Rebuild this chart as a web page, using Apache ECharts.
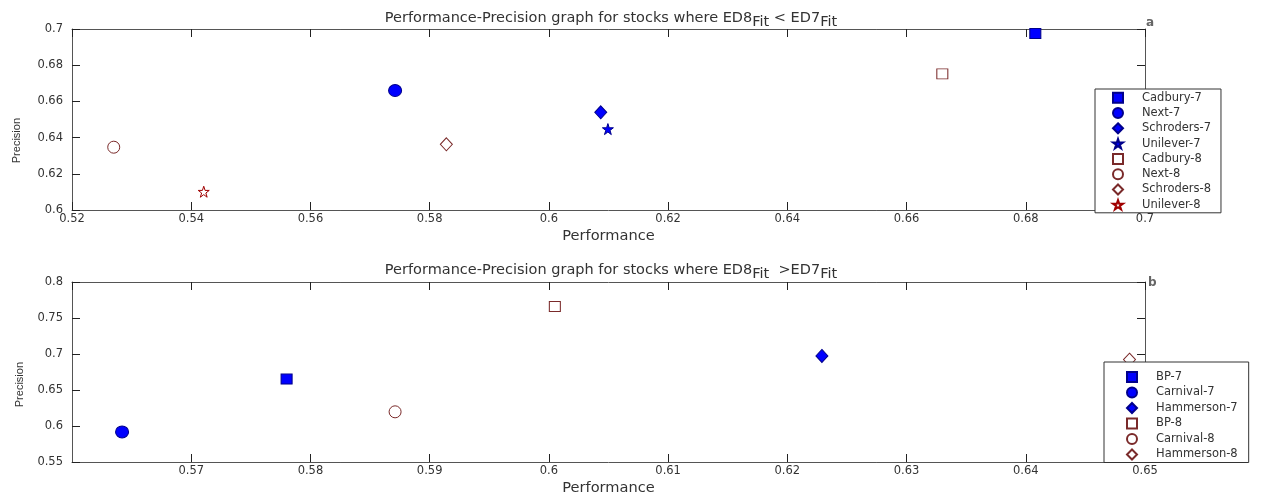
<!DOCTYPE html>
<html>
<head>
<meta charset="utf-8">
<script src="https://cdn.jsdelivr.net/npm/echarts@6/dist/echarts.min.js"></script>
<style>
html,body{margin:0;padding:0;background:#fff;}
#c{width:1275px;height:499px;}
</style>
</head>
<body>
<div id="c"></div>
<script>
// ---- data ----
const namesA = ['Cadbury-7','Next-7','Schroders-7','Unilever-7','Cadbury-8','Next-8','Schroders-8','Unilever-8'];
const perfA  = [0.6816, 0.5742, 0.6087, 0.6099, 0.6660, 0.5270, 0.5828, 0.5421];
const precA  = [0.6975, 0.6660, 0.6540, 0.6447, 0.6752, 0.6347, 0.6363, 0.6101];
const shapesA = ['sq','ci','di','st','sq','ci','di','st'];
const filledA = [true,true,true,true,false,false,false,false];

const namesB = ['BP-7','Carnival-7','Hammerson-7','BP-8','Carnival-8','Hammerson-8'];
const perfB  = [0.5780, 0.5642, 0.6229, 0.6005, 0.5871, 0.6487];
const precB  = [0.6652, 0.5918, 0.6973, 0.7661, 0.6197, 0.6922];
const shapesB = ['sq','ci','di','sq','ci','di'];
const filledB = [true,true,true,false,false,false];

const axisA = {xMin:0.52, xMax:0.70, xStep:0.02, yMin:0.60, yMax:0.70, yStep:0.02};
const axisB = {xMin:0.56, xMax:0.65, xStep:0.01, yMin:0.55, yMax:0.80, yStep:0.05};

const titleA = ['Performance-Precision graph for stocks where ED8', 'Fit', ' < ED7', 'Fit'];
const titleB = ['Performance-Precision graph for stocks where ED8', 'Fit', '  >ED7', 'Fit'];

// ---- styling ----
const FONT = 'DejaVu Sans, Liberation Sans, Arial, sans-serif';
const STAR = 'path://M50,0 L61.8,35.1 L98.9,35.1 L68.9,56.9 L80.3,92.1 L50,70.4 L19.7,92.1 L31.1,56.9 L1.1,35.1 L38.2,35.1 Z';
function symOf(s){ return s==='sq'?'rect':s==='ci'?'circle':s==='di'?'diamond':STAR; }
function sizeOf(s, f){
  if (s==='sq') return f?[11,10]:[11,10];
  if (s==='ci') return f?[13,12]:[12,12];
  if (s==='di') return f?[12,13]:[12,13];
  return f?[11,11]:[11,11];
}
function styleOf(s, f){
  if (f) return {color:'#0000ff', borderColor:'#00008b', borderWidth:1, opacity:1};
  return {color:'#ffffff', borderColor: s==='st' ? '#a00000' : '#7a2a2a', borderWidth:1, opacity:1};
}

const grids = [
  {left:72, top:29, width:1073, height:181},
  {left:72, top:282, width:1073, height:180}
];

function axesFor(ax, gi){
  const lineC = '#555';
  const common = {
    axisLine:{show:true, onZero:false, lineStyle:{color:lineC, width:1}},
    axisTick:{show:true, inside:true, length:8, lineStyle:{color:'#222', width:1}},
    splitLine:{show:false}
  };
  const xs = [
    Object.assign({type:'value', gridIndex:gi, min:ax.xMin, max:ax.xMax, interval:ax.xStep, position:'bottom',
      name:'Performance', nameLocation:'middle', nameGap:18.5,
      nameTextStyle:{fontFamily:FONT, fontSize:14.6, color:'#333'},
      axisLabel:{fontFamily:FONT, fontSize:11.5, color:'#333', margin:3.5, showMinLabel: gi===0}}, common),
    Object.assign({type:'value', gridIndex:gi, min:ax.xMin, max:ax.xMax, interval:ax.xStep, position:'top',
      axisLabel:{show:false}}, common)
  ];
  const ys = [
    Object.assign({type:'value', gridIndex:gi, min:ax.yMin, max:ax.yMax, interval:ax.yStep, position:'left',
      axisLabel:{fontFamily:FONT, fontSize:11.5, color:'#333', margin:9}}, common),
    Object.assign({type:'value', gridIndex:gi, min:ax.yMin, max:ax.yMax, interval:ax.yStep, position:'right',
      axisLabel:{show:false}}, common)
  ];
  return {xs, ys};
}
const aA = axesFor(axisA, 0), aB = axesFor(axisB, 1);
const xAxis = [...aA.xs, ...aB.xs]; // indices 0,1 (A) 2,3 (B)
const yAxis = [...aA.ys, ...aB.ys];

const series = [];
namesA.forEach((n,i)=>{
  series.push({name:n, type:'scatter', xAxisIndex:0, yAxisIndex:0,
    symbol:symOf(shapesA[i]), symbolSize:sizeOf(shapesA[i], filledA[i]),
    itemStyle:styleOf(shapesA[i], filledA[i]), data:[[perfA[i], precA[i]]], z:3, silent:true});
});
namesB.forEach((n,i)=>{
  series.push({name:n, type:'scatter', xAxisIndex:2, yAxisIndex:2,
    symbol:symOf(shapesB[i]), symbolSize:sizeOf(shapesB[i], filledB[i]),
    itemStyle:styleOf(shapesB[i], filledB[i]), data:[[perfB[i], precB[i]]], z:3, silent:true});
});

function richTitle(parts){
  return '{a|'+parts[0]+'}{s|'+parts[1]+'}{a|'+parts[2]+'}{s|'+parts[3]+'}';
}
const rich = {
  a:{fontFamily:FONT, fontSize:14.5, fontWeight:'normal', color:'#333', verticalAlign:'top', lineHeight:19},
  s:{fontFamily:FONT, fontSize:14.5, fontWeight:'normal', color:'#333', verticalAlign:'bottom', lineHeight:19}
};

const legendCommon = {
  orient:'vertical', backgroundColor:'#fff', borderColor:'#333', borderWidth:1,
  itemWidth:10, itemHeight:10, selectedMode:false, z:10,
  textStyle:{fontFamily:FONT, fontSize:11.5, color:'#333', lineHeight:10, padding:[0,0,0,14]}
};

const option = {
  animation:false,
  backgroundColor:'#fff',
  grid:grids,
  xAxis, yAxis, series,
  title:[
    {text:richTitle(titleA), left:606, top:6, textAlign:'center', textStyle:{rich, fontWeight:'normal'}},
    {text:richTitle(titleB), left:606, top:258, textAlign:'center', textStyle:{rich, fontWeight:'normal'}}
  ],
  legend:[
    Object.assign({}, legendCommon, {data:namesA, left:1095, top:89, itemGap:3.3, padding:[2.7,10,2,17]}),
    Object.assign({}, legendCommon, {data:namesB, left:1104, top:362, itemGap:3.5, padding:[9,11,2,22]})
  ],
  graphic:[
    {type:'text', left:11, top:118, rotation:Math.PI/2, style:{text:'Precision', font:'11px Liberation Sans, Arial, sans-serif', fill:'#333'}},
    {type:'text', left:14, top:362, rotation:Math.PI/2, style:{text:'Precision', font:'11px Liberation Sans, Arial, sans-serif', fill:'#333'}},
    {type:'text', left:1146, top:17, style:{text:'a', font:'bold 12px '+FONT, fill:'#666'}},
    {type:'text', left:1148, top:277, style:{text:'b', font:'bold 12px '+FONT, fill:'#666'}}
  ]
};
const chart = echarts.init(document.getElementById('c'));
chart.setOption(option);
</script>
</body>
</html>
